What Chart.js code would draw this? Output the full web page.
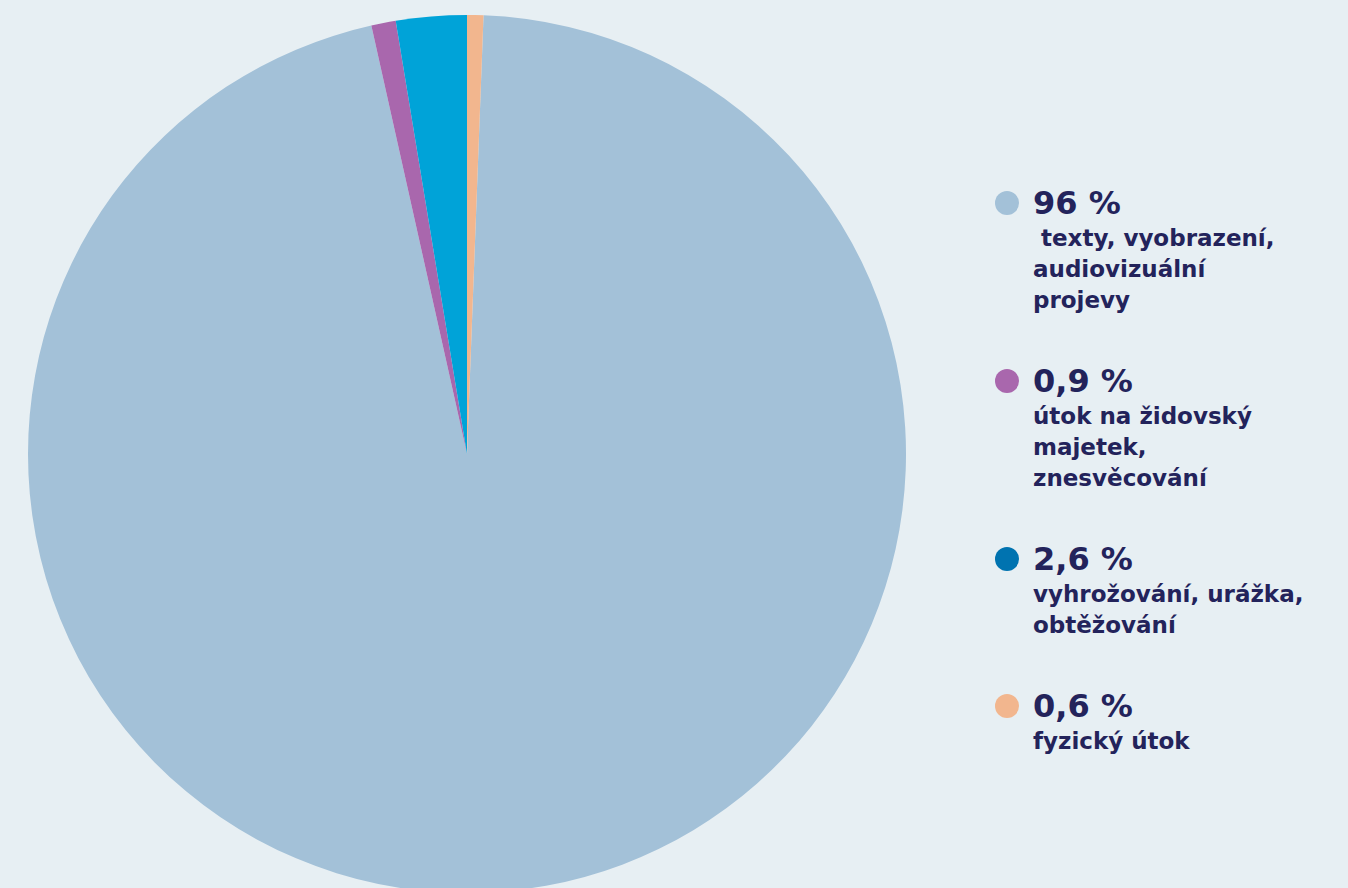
<!DOCTYPE html>
<html lang="cs">

<head>
    <meta charset="UTF-8">
    <title>Antisemitské incidenty</title>
    <script src="https://cdn.jsdelivr.net/npm/chart.js"></script>
    <style>
        html, body {
            margin: 0;
            padding: 0;
            width: 1348px;
            height: 888px;
            overflow: hidden;
            background: #e7eff3;
            font-family: "DejaVu Sans", "Noto Sans", sans-serif;
            color: #23235b;
        }
        #pieBox {
            position: absolute;
            left: 28px;
            top: 15px;
            width: 878px;
            height: 878px;
        }
        #legend {
            position: absolute;
            left: 995px;
            top: 183px;
        }
        .item {
            position: relative;
            padding-left: 38px;
            margin-bottom: 45px;
        }
        .dot {
            position: absolute;
            left: 0;
            top: 8px;
            width: 24px;
            height: 24px;
            border-radius: 50%;
        }
        .val {
            font-size: 32px;
            font-weight: 700;
            line-height: 40px;
        }
        .txt {
            font-size: 23px;
            font-weight: 700;
            line-height: 31px;
            white-space: pre;
        }
    </style>
</head>

<body>
    <div id="pieBox"><canvas id="pie"></canvas></div>
    <div id="legend"></div>
</body>
<script>
    // hodnoty v procentech
    const values = [96, 0.9, 2.6, 0.6];
    const valueLabels = ['96 %', '0,9 %', '2,6 %', '0,6 %'];
    const categories = [
        ['\u00a0texty, vyobrazení,', 'audiovizuální', 'projevy'],
        ['útok na židovský', 'majetek,', 'znesvěcování'],
        ['vyhrožování, urážka,', 'obtěžování'],
        ['fyzický útok']
    ];
    const sliceColors = ['#a3c1d8', '#a967ad', '#00a3d8', '#f2b68e'];
    const dotColors = ['#a3c1d8', '#a967ad', '#0073b0', '#f2b68e'];

    // poslední výseč (0,6 %) začíná nahoře
    const total = values.reduce((a, b) => a + b, 0);
    const startRot = values[3] / total * 360;

    new Chart(document.getElementById('pie'), {
        type: 'pie',
        data: {
            labels: categories.map(c => c.join(' ')),
            datasets: [{
                data: values,
                backgroundColor: sliceColors,
                borderWidth: 0
            }]
        },
        options: {
            responsive: true,
            maintainAspectRatio: false,
            animation: false,
            rotation: startRot,
            layout: { padding: 0 },
            plugins: {
                legend: { display: false },
                tooltip: { enabled: false }
            }
        }
    });

    const legend = document.getElementById('legend');
    values.forEach((v, i) => {
        const item = document.createElement('div');
        item.className = 'item';
        const dot = document.createElement('div');
        dot.className = 'dot';
        dot.style.background = dotColors[i];
        item.appendChild(dot);
        const val = document.createElement('div');
        val.className = 'val';
        val.textContent = valueLabels[i];
        item.appendChild(val);
        categories[i].forEach(line => {
            const t = document.createElement('div');
            t.className = 'txt';
            t.textContent = line;
            item.appendChild(t);
        });
        legend.appendChild(item);
    });
</script>

</html>
